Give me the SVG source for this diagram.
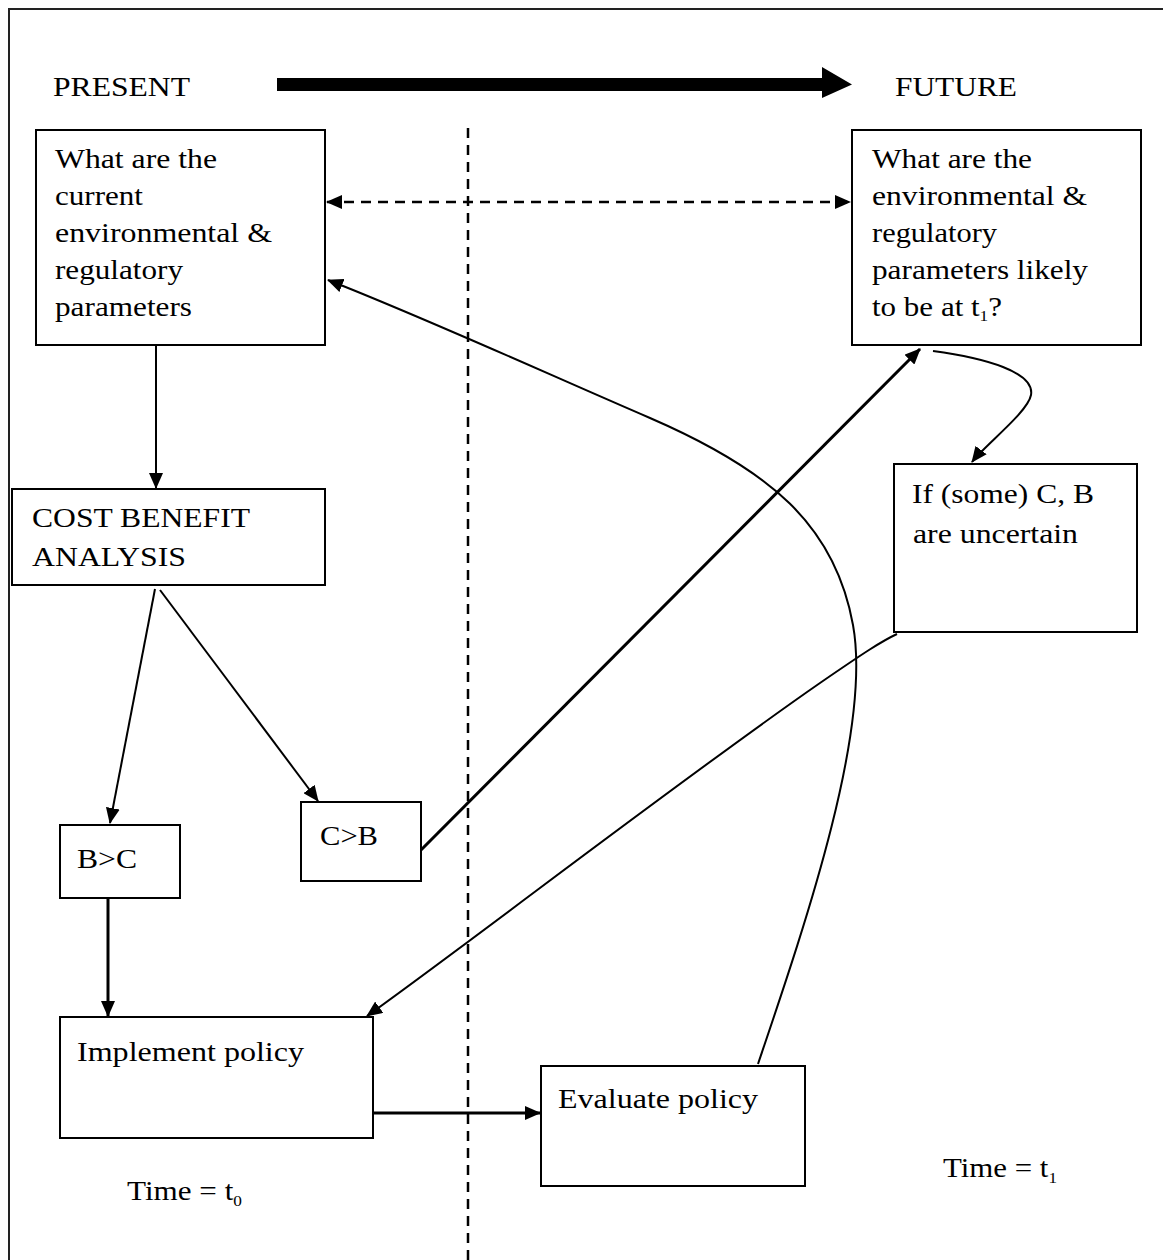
<svg xmlns="http://www.w3.org/2000/svg" width="1163" height="1260" viewBox="0 0 1163 1260">
<style>
text{font-family:"Liberation Serif","Times New Roman",serif;font-size:27px;fill:#000}
.box{fill:#fff;stroke:#000;stroke-width:2}
.c{fill:none;stroke:#000;stroke-width:2}
.ct{fill:none;stroke:#000;stroke-width:3}
.d{fill:none;stroke:#000;stroke-width:2.5;stroke-dasharray:10 7}
.sub{font-size:15px}
</style>
<defs>
<marker id="ah" markerWidth="16" markerHeight="14" refX="15" refY="7" orient="auto-start-reverse" markerUnits="userSpaceOnUse"><path d="M0,0 L16,7 L0,14 z" fill="#000"/></marker>
</defs>
<rect width="1163" height="1260" fill="#fff"/>
<path d="M9,1262 V9 H1165" fill="none" stroke="#222" stroke-width="2"/>
<g id="timeline">
<text x="53" y="96" textLength="137" lengthAdjust="spacingAndGlyphs">PRESENT</text>
<path d="M277,78 H822 V67 L852,84.5 L822,98 V91 H277 Z" fill="#000"/>
<text x="895" y="96" textLength="122" lengthAdjust="spacingAndGlyphs">FUTURE</text>
</g>
<g id="divider"><line class="d" x1="468" y1="128" x2="468" y2="1262"/></g>
<g id="connectors">
<line class="d" x1="327" y1="202" x2="850" y2="202" marker-start="url(#ah)" marker-end="url(#ah)"/>
<line class="c" x1="156" y1="346" x2="156" y2="488" marker-end="url(#ah)"/>
<line class="c" x1="155" y1="589" x2="110" y2="823" marker-end="url(#ah)"/>
<line class="c" x1="160" y1="590" x2="318" y2="801" marker-end="url(#ah)"/>
<line class="ct" x1="108" y1="899" x2="108" y2="1016" marker-end="url(#ah)"/>
<line class="ct" x1="421" y1="850" x2="920" y2="349" marker-end="url(#ah)"/>
<path class="c" d="M933,351 C985,358 1035,372 1031,395 C1028,412 985,445 972,462" marker-end="url(#ah)"/>
<path class="c" d="M897,634 C882,641 865,652 820,683 C680,780 480,935 367,1016" marker-end="url(#ah)"/>
<line class="ct" x1="373" y1="1113" x2="540" y2="1113" marker-end="url(#ah)"/>
<path class="c" d="M758,1064 C805,925 872,730 853,625 C835,525 770,470 650,418 C550,375 430,320 328,280" marker-end="url(#ah)"/>
</g>
<g id="current">
<rect class="box" x="36" y="130" width="289" height="215"/>
<text x="55" y="168" textLength="162" lengthAdjust="spacingAndGlyphs">What are the</text>
<text x="55" y="205" textLength="88" lengthAdjust="spacingAndGlyphs">current</text>
<text x="55" y="242" textLength="217" lengthAdjust="spacingAndGlyphs">environmental &amp;</text>
<text x="55" y="279" textLength="128" lengthAdjust="spacingAndGlyphs">regulatory</text>
<text x="55" y="316" textLength="137" lengthAdjust="spacingAndGlyphs">parameters</text>
</g>
<g id="future">
<rect class="box" x="852" y="130" width="289" height="215"/>
<text x="872" y="168" textLength="160" lengthAdjust="spacingAndGlyphs">What are the</text>
<text x="872" y="205" textLength="215" lengthAdjust="spacingAndGlyphs">environmental &amp;</text>
<text x="872" y="242" textLength="125" lengthAdjust="spacingAndGlyphs">regulatory</text>
<text x="872" y="279" textLength="216" lengthAdjust="spacingAndGlyphs">parameters likely</text>
<text x="872" y="316" textLength="130" lengthAdjust="spacingAndGlyphs">to be at t<tspan class="sub" dy="5">1</tspan><tspan dy="-5">?</tspan></text>
</g>
<g id="cba">
<rect class="box" x="12" y="489" width="313" height="96"/>
<text x="32" y="527" textLength="218" lengthAdjust="spacingAndGlyphs">COST BENEFIT</text>
<text x="32" y="566" textLength="154" lengthAdjust="spacingAndGlyphs">ANALYSIS</text>
</g>
<g id="uncertain">
<rect class="box" x="894" y="464" width="243" height="168"/>
<text x="912" y="503" textLength="182" lengthAdjust="spacingAndGlyphs">If (some) C, B</text>
<text x="913" y="543" textLength="165" lengthAdjust="spacingAndGlyphs">are uncertain</text>
</g>
<g id="bgc">
<rect class="box" x="60" y="825" width="120" height="73"/>
<text x="77" y="868" textLength="60" lengthAdjust="spacingAndGlyphs">B&gt;C</text>
</g>
<g id="cgb">
<rect class="box" x="301" y="802" width="120" height="79"/>
<text x="320" y="845" textLength="58" lengthAdjust="spacingAndGlyphs">C&gt;B</text>
</g>
<g id="implement">
<rect class="box" x="60" y="1017" width="313" height="121"/>
<text x="77" y="1061" textLength="227" lengthAdjust="spacingAndGlyphs">Implement policy</text>
</g>
<g id="evaluate">
<rect class="box" x="541" y="1066" width="264" height="120"/>
<text x="558" y="1108" textLength="200" lengthAdjust="spacingAndGlyphs">Evaluate policy</text>
</g>
<g id="times">
<text x="127" y="1200" textLength="115" lengthAdjust="spacingAndGlyphs">Time = t<tspan class="sub" dy="6">0</tspan></text>
<text x="943" y="1177" textLength="114" lengthAdjust="spacingAndGlyphs">Time = t<tspan class="sub" dy="6">1</tspan></text>
</g>
</svg>
